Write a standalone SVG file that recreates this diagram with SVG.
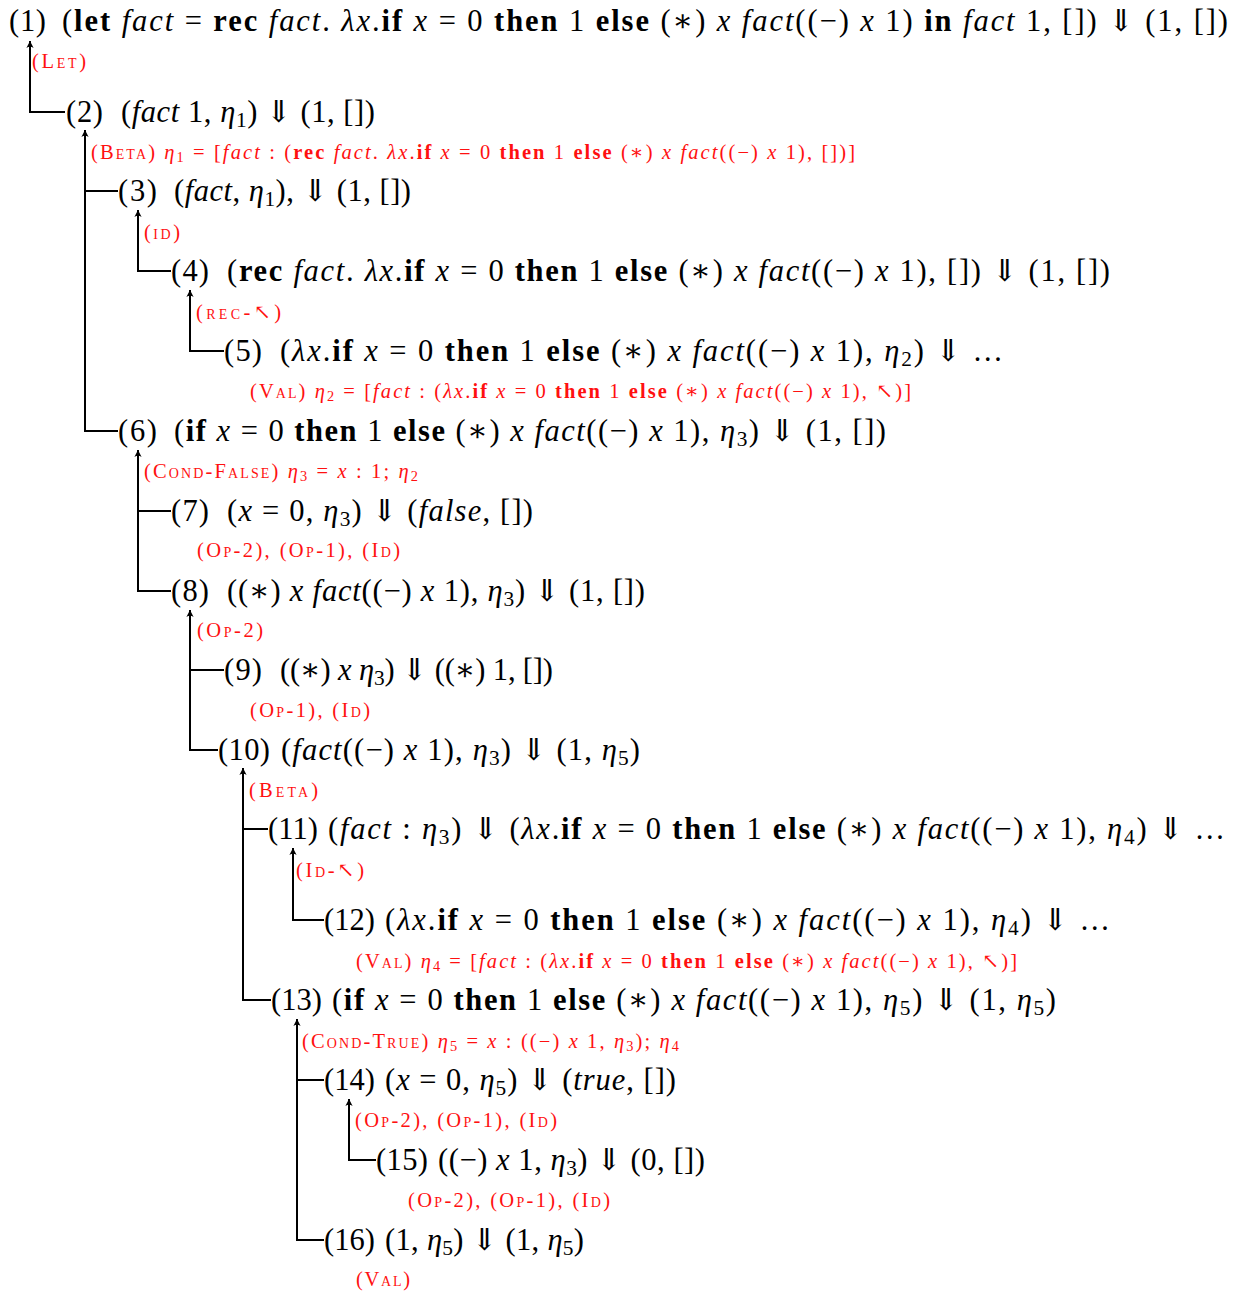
<svg xmlns="http://www.w3.org/2000/svg" width="1249" height="1295" viewBox="0 0 1249 1295">
<style>
.t{font-family:"Liberation Serif","DejaVu Serif",serif;font-size:30.5px;fill:#000}
.r{font-family:"Liberation Serif","DejaVu Serif",serif;font-size:20.5px;fill:#ff1010}
.b{font-weight:bold}
.i{font-style:italic}
.sc{font-variant:small-caps}
.s{font-size:70%;baseline-shift:-22%}
.ln{fill:none;stroke:#000;stroke-width:2}
.ar{fill:none;stroke:#000;stroke-width:2;marker-end:url(#tip)}
</style>
<defs>
<marker id="tip" viewBox="-8 -5 9 10" markerWidth="9" markerHeight="10" refX="0" refY="0" orient="auto" markerUnits="userSpaceOnUse">
<path d="M0,0 L-7,-3.6 Q-4.5,0 -7,3.6 Z" fill="#000"/>
</marker>
</defs>
<rect width="1249" height="1295" fill="#fff"/>
<g id="connectors">
<path class="ar" d="M65,112 H30 V41"/>
<path class="ar" d="M118,431 H85 V130"/>
<path class="ln" d="M85,191 H118"/>
<path class="ar" d="M171,271 H138 V210"/>
<path class="ar" d="M224,351 H190 V290"/>
<path class="ar" d="M171,591 H138 V450"/>
<path class="ln" d="M138,511 H171"/>
<path class="ar" d="M218,750 H190 V610"/>
<path class="ln" d="M190,670 H224"/>
<path class="ar" d="M271,1000 H243 V768"/>
<path class="ln" d="M243,829 H268"/>
<path class="ar" d="M324,920 H293 V848"/>
<path class="ar" d="M324,1240 H297 V1019"/>
<path class="ln" d="M297,1080 H324"/>
<path class="ar" d="M376,1160 H349 V1099"/>
</g>
<g id="rules">
<text class="r" x="32" y="68" textLength="54" lengthAdjust="spacing"><tspan class="sc">(Let)</tspan></text>
<text class="r" x="91" y="159" textLength="764" lengthAdjust="spacing"><tspan class="sc">(Beta)</tspan> <tspan class="i">η</tspan><tspan class="s">1</tspan> = [<tspan class="i">fact</tspan> : (<tspan class="b">rec</tspan> <tspan class="i">fact</tspan>. <tspan class="i">λx</tspan>.<tspan class="b">if</tspan> <tspan class="i">x</tspan> = 0 <tspan class="b">then</tspan> 1 <tspan class="b">else</tspan> (∗) <tspan class="i">x</tspan> <tspan class="i">fact</tspan>((−) <tspan class="i">x</tspan> 1), [])]</text>
<text class="r" x="144" y="239" textLength="36" lengthAdjust="spacing"><tspan class="sc">(id)</tspan></text>
<text class="r" x="196" y="319" textLength="85" lengthAdjust="spacing"><tspan class="sc">(rec-</tspan>↖)</text>
<text class="r" x="250" y="398" textLength="661" lengthAdjust="spacing"><tspan class="sc">(Val)</tspan> <tspan class="i">η</tspan><tspan class="s">2</tspan> = [<tspan class="i">fact</tspan> : (<tspan class="i">λx</tspan>.<tspan class="b">if</tspan> <tspan class="i">x</tspan> = 0 <tspan class="b">then</tspan> 1 <tspan class="b">else</tspan> (∗) <tspan class="i">x</tspan> <tspan class="i">fact</tspan>((−) <tspan class="i">x</tspan> 1), ↖)]</text>
<text class="r" x="144" y="478" textLength="274" lengthAdjust="spacing"><tspan class="sc">(Cond-False)</tspan> <tspan class="i">η</tspan><tspan class="s">3</tspan> = <tspan class="i">x</tspan> : 1; <tspan class="i">η</tspan><tspan class="s">2</tspan></text>
<text class="r sc" x="197" y="557" textLength="203" lengthAdjust="spacing">(Op-2), (Op-1), (Id)</text>
<text class="r sc" x="197" y="637" textLength="66" lengthAdjust="spacing">(Op-2)</text>
<text class="r sc" x="250" y="717" textLength="120" lengthAdjust="spacing">(Op-1), (Id)</text>
<text class="r sc" x="249" y="797" textLength="69" lengthAdjust="spacing">(Beta)</text>
<text class="r" x="296" y="877" textLength="68" lengthAdjust="spacing"><tspan class="sc">(Id-</tspan>↖)</text>
<text class="r" x="356" y="968" textLength="661" lengthAdjust="spacing"><tspan class="sc">(Val)</tspan> <tspan class="i">η</tspan><tspan class="s">4</tspan> = [<tspan class="i">fact</tspan> : (<tspan class="i">λx</tspan>.<tspan class="b">if</tspan> <tspan class="i">x</tspan> = 0 <tspan class="b">then</tspan> 1 <tspan class="b">else</tspan> (∗) <tspan class="i">x</tspan> <tspan class="i">fact</tspan>((−) <tspan class="i">x</tspan> 1), ↖)]</text>
<text class="r" x="302" y="1048" textLength="377" lengthAdjust="spacing"><tspan class="sc">(Cond-True)</tspan> <tspan class="i">η</tspan><tspan class="s">5</tspan> = <tspan class="i">x</tspan> : ((−) <tspan class="i">x</tspan> 1, <tspan class="i">η</tspan><tspan class="s">3</tspan>); <tspan class="i">η</tspan><tspan class="s">4</tspan></text>
<text class="r sc" x="355" y="1127" textLength="202" lengthAdjust="spacing">(Op-2), (Op-1), (Id)</text>
<text class="r sc" x="408" y="1207" textLength="202" lengthAdjust="spacing">(Op-2), (Op-1), (Id)</text>
<text class="r sc" x="356" y="1286" textLength="54" lengthAdjust="spacing">(Val)</text>
</g>
<g id="n1">
<text class="t" x="9" y="31" textLength="37" lengthAdjust="spacing">(1)</text>
<text class="t" x="62" y="31" textLength="1166" lengthAdjust="spacing">(<tspan class="b">let</tspan> <tspan class="i">fact</tspan> = <tspan class="b">rec</tspan> <tspan class="i">fact</tspan>. <tspan class="i">λx</tspan>.<tspan class="b">if</tspan> <tspan class="i">x</tspan> = 0 <tspan class="b">then</tspan> 1 <tspan class="b">else</tspan> (∗) <tspan class="i">x</tspan> <tspan class="i">fact</tspan>((−) <tspan class="i">x</tspan> 1) <tspan class="b">in</tspan> <tspan class="i">fact</tspan> 1, []) ⇓ (1, [])</text>
</g>
<g id="n2">
<text class="t" x="66" y="122" textLength="37" lengthAdjust="spacing">(2)</text>
<text class="t" x="121" y="122" textLength="254" lengthAdjust="spacing">(<tspan class="i">fact</tspan> 1, <tspan class="i">η</tspan><tspan class="s">1</tspan>) ⇓ (1, [])</text>
</g>
<g id="n3">
<text class="t" x="118" y="201" textLength="39" lengthAdjust="spacing">(3)</text>
<text class="t" x="174" y="201" textLength="237" lengthAdjust="spacing">(<tspan class="i">fact</tspan>, <tspan class="i">η</tspan><tspan class="s">1</tspan>), ⇓ (1, [])</text>
</g>
<g id="n4">
<text class="t" x="171" y="281" textLength="38" lengthAdjust="spacing">(4)</text>
<text class="t" x="227" y="281" textLength="883" lengthAdjust="spacing">(<tspan class="b">rec</tspan> <tspan class="i">fact</tspan>. <tspan class="i">λx</tspan>.<tspan class="b">if</tspan> <tspan class="i">x</tspan> = 0 <tspan class="b">then</tspan> 1 <tspan class="b">else</tspan> (∗) <tspan class="i">x</tspan> <tspan class="i">fact</tspan>((−) <tspan class="i">x</tspan> 1), []) ⇓ (1, [])</text>
</g>
<g id="n5">
<text class="t" x="224" y="361" textLength="38" lengthAdjust="spacing">(5)</text>
<text class="t" x="280" y="361" textLength="723" lengthAdjust="spacing">(<tspan class="i">λx</tspan>.<tspan class="b">if</tspan> <tspan class="i">x</tspan> = 0 <tspan class="b">then</tspan> 1 <tspan class="b">else</tspan> (∗) <tspan class="i">x</tspan> <tspan class="i">fact</tspan>((−) <tspan class="i">x</tspan> 1), <tspan class="i">η</tspan><tspan class="s">2</tspan>) ⇓ …</text>
</g>
<g id="n6">
<text class="t" x="118" y="441" textLength="39" lengthAdjust="spacing">(6)</text>
<text class="t" x="174" y="441" textLength="712" lengthAdjust="spacing">(<tspan class="b">if</tspan> <tspan class="i">x</tspan> = 0 <tspan class="b">then</tspan> 1 <tspan class="b">else</tspan> (∗) <tspan class="i">x</tspan> <tspan class="i">fact</tspan>((−) <tspan class="i">x</tspan> 1), <tspan class="i">η</tspan><tspan class="s">3</tspan>) ⇓ (1, [])</text>
</g>
<g id="n7">
<text class="t" x="171" y="521" textLength="38" lengthAdjust="spacing">(7)</text>
<text class="t" x="227" y="521" textLength="306" lengthAdjust="spacing">(<tspan class="i">x</tspan> = 0, <tspan class="i">η</tspan><tspan class="s">3</tspan>) ⇓ (<tspan class="i">false</tspan>, [])</text>
</g>
<g id="n8">
<text class="t" x="171" y="601" textLength="38" lengthAdjust="spacing">(8)</text>
<text class="t" x="227" y="601" textLength="418" lengthAdjust="spacing">((∗) <tspan class="i">x</tspan> <tspan class="i">fact</tspan>((−) <tspan class="i">x</tspan> 1), <tspan class="i">η</tspan><tspan class="s">3</tspan>) ⇓ (1, [])</text>
</g>
<g id="n9">
<text class="t" x="224" y="680" textLength="38" lengthAdjust="spacing">(9)</text>
<text class="t" x="280" y="680" textLength="273" lengthAdjust="spacing">((∗) <tspan class="i">x</tspan> <tspan class="i">η</tspan><tspan class="s">3</tspan>) ⇓ ((∗) 1, [])</text>
</g>
<g id="n10">
<text class="t" x="218" y="760" textLength="52" lengthAdjust="spacing">(10)</text>
<text class="t" x="281" y="760" textLength="359" lengthAdjust="spacing">(<tspan class="i">fact</tspan>((−) <tspan class="i">x</tspan> 1), <tspan class="i">η</tspan><tspan class="s">3</tspan>) ⇓ (1, <tspan class="i">η</tspan><tspan class="s">5</tspan>)</text>
</g>
<g id="n11">
<text class="t" x="268" y="839" textLength="50" lengthAdjust="spacing">(11)</text>
<text class="t" x="328" y="839" textLength="897" lengthAdjust="spacing">(<tspan class="i">fact</tspan> : <tspan class="i">η</tspan><tspan class="s">3</tspan>) ⇓ (<tspan class="i">λx</tspan>.<tspan class="b">if</tspan> <tspan class="i">x</tspan> = 0 <tspan class="b">then</tspan> 1 <tspan class="b">else</tspan> (∗) <tspan class="i">x</tspan> <tspan class="i">fact</tspan>((−) <tspan class="i">x</tspan> 1), <tspan class="i">η</tspan><tspan class="s">4</tspan>) ⇓ …</text>
</g>
<g id="n12">
<text class="t" x="324" y="930" textLength="51" lengthAdjust="spacing">(12)</text>
<text class="t" x="385" y="930" textLength="725" lengthAdjust="spacing">(<tspan class="i">λx</tspan>.<tspan class="b">if</tspan> <tspan class="i">x</tspan> = 0 <tspan class="b">then</tspan> 1 <tspan class="b">else</tspan> (∗) <tspan class="i">x</tspan> <tspan class="i">fact</tspan>((−) <tspan class="i">x</tspan> 1), <tspan class="i">η</tspan><tspan class="s">4</tspan>) ⇓ …</text>
</g>
<g id="n13">
<text class="t" x="271" y="1010" textLength="51" lengthAdjust="spacing">(13)</text>
<text class="t" x="332" y="1010" textLength="724" lengthAdjust="spacing">(<tspan class="b">if</tspan> <tspan class="i">x</tspan> = 0 <tspan class="b">then</tspan> 1 <tspan class="b">else</tspan> (∗) <tspan class="i">x</tspan> <tspan class="i">fact</tspan>((−) <tspan class="i">x</tspan> 1), <tspan class="i">η</tspan><tspan class="s">5</tspan>) ⇓ (1, <tspan class="i">η</tspan><tspan class="s">5</tspan>)</text>
</g>
<g id="n14">
<text class="t" x="324" y="1090" textLength="51" lengthAdjust="spacing">(14)</text>
<text class="t" x="385" y="1090" textLength="291" lengthAdjust="spacing">(<tspan class="i">x</tspan> = 0, <tspan class="i">η</tspan><tspan class="s">5</tspan>) ⇓ (<tspan class="i">true</tspan>, [])</text>
</g>
<g id="n15">
<text class="t" x="376" y="1170" textLength="52" lengthAdjust="spacing">(15)</text>
<text class="t" x="438" y="1170" textLength="267" lengthAdjust="spacing">((−) <tspan class="i">x</tspan> 1, <tspan class="i">η</tspan><tspan class="s">3</tspan>) ⇓ (0, [])</text>
</g>
<g id="n16">
<text class="t" x="324" y="1250" textLength="51" lengthAdjust="spacing">(16)</text>
<text class="t" x="385" y="1250" textLength="199" lengthAdjust="spacing">(1, <tspan class="i">η</tspan><tspan class="s">5</tspan>) ⇓ (1, <tspan class="i">η</tspan><tspan class="s">5</tspan>)</text>
</g>
</svg>
